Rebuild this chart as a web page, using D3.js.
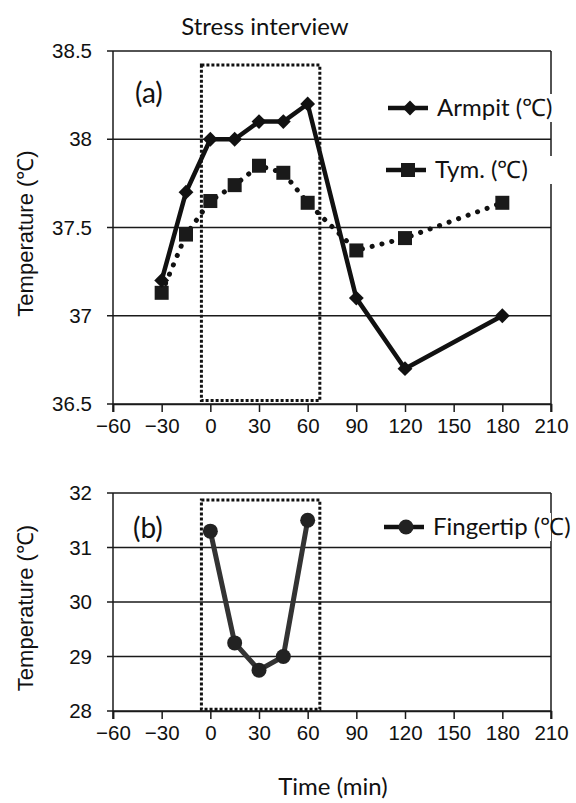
<!DOCTYPE html>
<html>
<head>
<meta charset="utf-8">
<script src="https://cdn.jsdelivr.net/npm/d3@7"></script>
<style>
  html, body { margin: 0; padding: 0; background: #fff; }
  svg { display: block; }
</style>
</head>
<body>
<svg id="chart" width="576" height="803"></svg>
<script>
// ---- data ----
const armpitTime = [-30, -15, 0, 15, 30, 45, 60, 90, 120, 180];
const armpitTemp = [37.2, 37.7, 38.0, 38.0, 38.1, 38.1, 38.2, 37.1, 36.7, 37.0];
const tymTime = [-30, -15, 0, 15, 30, 45, 60, 90, 120, 180];
const tymTemp = [37.13, 37.46, 37.65, 37.74, 37.85, 37.81, 37.64, 37.37, 37.44, 37.64];
const fingerTime = [0, 15, 30, 45, 60];
const fingerTemp = [31.3, 29.25, 28.75, 29.0, 31.5];
const xTicks = [-60, -30, 0, 30, 60, 90, 120, 150, 180, 210];
const yTicksA = [36.5, 37, 37.5, 38, 38.5];
const yTicksB = [28, 29, 30, 31, 32];
const stressBoxA = {t0: -5.5, t1: 67.5, v0: 36.52, v1: 38.42};
const stressBoxB = {t0: -5.5, t1: 67.5, v0: 28.03, v1: 31.87};

const svg = d3.select("#chart");
const sansNum = "'Liberation Sans', Arial, sans-serif";
const sansTxt = "Lato, 'Open Sans', sans-serif";

const L = 113, R = 551;
const x = d3.scaleLinear().domain([-60, 210]).range([L, R]);

function panel(top, bottom, yDomain, yTicks, fmt) {
  const y = d3.scaleLinear().domain(yDomain).range([bottom, top]);
  const g = svg.append("g");
  g.selectAll("line.grid").data(yTicks).join("line")
    .attr("x1", L - 6).attr("x2", R)
    .attr("y1", d => y(d)).attr("y2", d => y(d))
    .attr("stroke", "#1a1a1a").attr("stroke-width", 1.5);
  g.append("line").attr("x1", L).attr("x2", L).attr("y1", top).attr("y2", bottom + 8)
    .attr("stroke", "#1a1a1a").attr("stroke-width", 1.5);
  g.append("line").attr("x1", R).attr("x2", R).attr("y1", top).attr("y2", bottom + 8)
    .attr("stroke", "#1a1a1a").attr("stroke-width", 1.5);
  const xa = d3.axisBottom(x).tickValues(xTicks).tickSize(8).tickPadding(6)
    .tickFormat(d => d < 0 ? "\u2212" + Math.abs(d) : d);
  const gx = g.append("g").attr("transform", `translate(0,${bottom})`).call(xa);
  gx.select(".domain").attr("stroke", "#1a1a1a").attr("stroke-width", 1.5);
  gx.selectAll(".tick line").attr("stroke", "#1a1a1a").attr("stroke-width", 1.5);
  gx.selectAll("text").attr("font-family", sansNum).attr("font-size", 20.5).attr("fill", "#111");
  const ya = d3.axisLeft(y).tickValues(yTicks).tickSize(0).tickPadding(21).tickFormat(fmt);
  const gy = g.append("g").attr("transform", `translate(${L},0)`).call(ya);
  gy.select(".domain").remove();
  gy.selectAll("text").attr("font-family", sansNum).attr("font-size", 20.5).attr("fill", "#111");
  g.append("text")
    .attr("transform", `translate(33,${(top + bottom) / 2 + 6}) rotate(-90)`)
    .attr("text-anchor", "middle").attr("font-family", sansNum).attr("font-size", 22)
    .attr("fill", "#111").text("Temperature (\u2103)");
  return {g, y};
}

function box(g, y, b) {
  g.append("rect")
    .attr("x", x(b.t0)).attr("y", y(b.v1))
    .attr("width", x(b.t1) - x(b.t0)).attr("height", y(b.v0) - y(b.v1))
    .attr("fill", "none").attr("stroke", "#111").attr("stroke-width", 3)
    .attr("stroke-dasharray", "3,2");
}

// ---- panel (a) ----
const A = panel(51, 404, [36.5, 38.5], yTicksA, d => d3.format("")(d));
box(A.g, A.y, stressBoxA);

const tymData = tymTime.map((t, i) => [t, tymTemp[i]]);
const armData = armpitTime.map((t, i) => [t, armpitTemp[i]]);
const lineA = d3.line().x(d => x(d[0])).y(d => A.y(d[1]));

A.g.append("path").attr("d", lineA(tymData)).attr("fill", "none")
  .attr("stroke", "#111").attr("stroke-width", 5)
  .attr("stroke-linecap", "round").attr("stroke-dasharray", "0.1,10");
A.g.selectAll("rect.tym").data(tymData).join("rect")
  .attr("x", d => x(d[0]) - 7).attr("y", d => A.y(d[1]) - 7)
  .attr("width", 14).attr("height", 14).attr("fill", "#1a1a1a");

A.g.append("path").attr("d", lineA(armData)).attr("fill", "none")
  .attr("stroke", "#111").attr("stroke-width", 4.5).attr("stroke-linejoin", "round");
A.g.selectAll("path.arm").data(armData).join("path")
  .attr("transform", d => `translate(${x(d[0])},${A.y(d[1])}) rotate(45)`)
  .attr("d", d3.symbol().type(d3.symbolSquare).size(110)).attr("fill", "#111");

function legendItem(g, cx, cy, label, markerFn) {
  g.append("rect").attr("x", cx - 30).attr("y", cy - 14).attr("width", 175).attr("height", 28).attr("fill", "#fff");
  g.append("line").attr("x1", cx - 22).attr("x2", cx + 18).attr("y1", cy).attr("y2", cy)
    .attr("stroke", "#111").attr("stroke-width", 4.5);
  markerFn(g.append("g").attr("transform", `translate(${cx},${cy})`));
  g.append("text").attr("x", cx + 27).attr("y", cy + 8)
    .attr("font-family", sansTxt).attr("font-size", 24).attr("fill", "#111").text(label);
}
legendItem(A.g, 410, 108, "Armpit (\u2103)", m => m.append("path")
  .attr("transform", "rotate(45)").attr("d", d3.symbol().type(d3.symbolSquare).size(110)).attr("fill", "#111"));
legendItem(A.g, 408, 170, "Tym. (\u2103)", m => m.append("rect")
  .attr("x", -7).attr("y", -7).attr("width", 14).attr("height", 14).attr("fill", "#1a1a1a"));

A.g.append("text").attr("x", 135).attr("y", 103).attr("font-family", sansTxt)
  .attr("font-size", 28).attr("fill", "#111").text("(a)");

// ---- panel (b) ----
const B = panel(493, 711, [28, 32], yTicksB, d => d);
box(B.g, B.y, stressBoxB);
const fData = fingerTime.map((t, i) => [t, fingerTemp[i]]);
const lineB = d3.line().x(d => x(d[0])).y(d => B.y(d[1]));
B.g.append("path").attr("d", lineB(fData)).attr("fill", "none")
  .attr("stroke", "#333").attr("stroke-width", 5).attr("stroke-linejoin", "round");
B.g.selectAll("circle.f").data(fData).join("circle")
  .attr("cx", d => x(d[0])).attr("cy", d => B.y(d[1])).attr("r", 7.5).attr("fill", "#222");
legendItem(B.g, 406, 527, "Fingertip (\u2103)", m => m.append("circle").attr("r", 7.5).attr("fill", "#222"));
B.g.append("text").attr("x", 133).attr("y", 538).attr("font-family", sansTxt)
  .attr("font-size", 28).attr("fill", "#111").text("(b)");

// ---- titles ----
svg.append("text").attr("x", 265).attr("y", 35).attr("text-anchor", "middle")
  .attr("font-family", sansTxt).attr("font-size", 24).attr("fill", "#111").text("Stress interview");
svg.append("text").attr("x", 333).attr("y", 795).attr("text-anchor", "middle")
  .attr("font-family", sansTxt).attr("font-size", 24).attr("fill", "#111").text("Time (min)");
</script>
</body>
</html>
